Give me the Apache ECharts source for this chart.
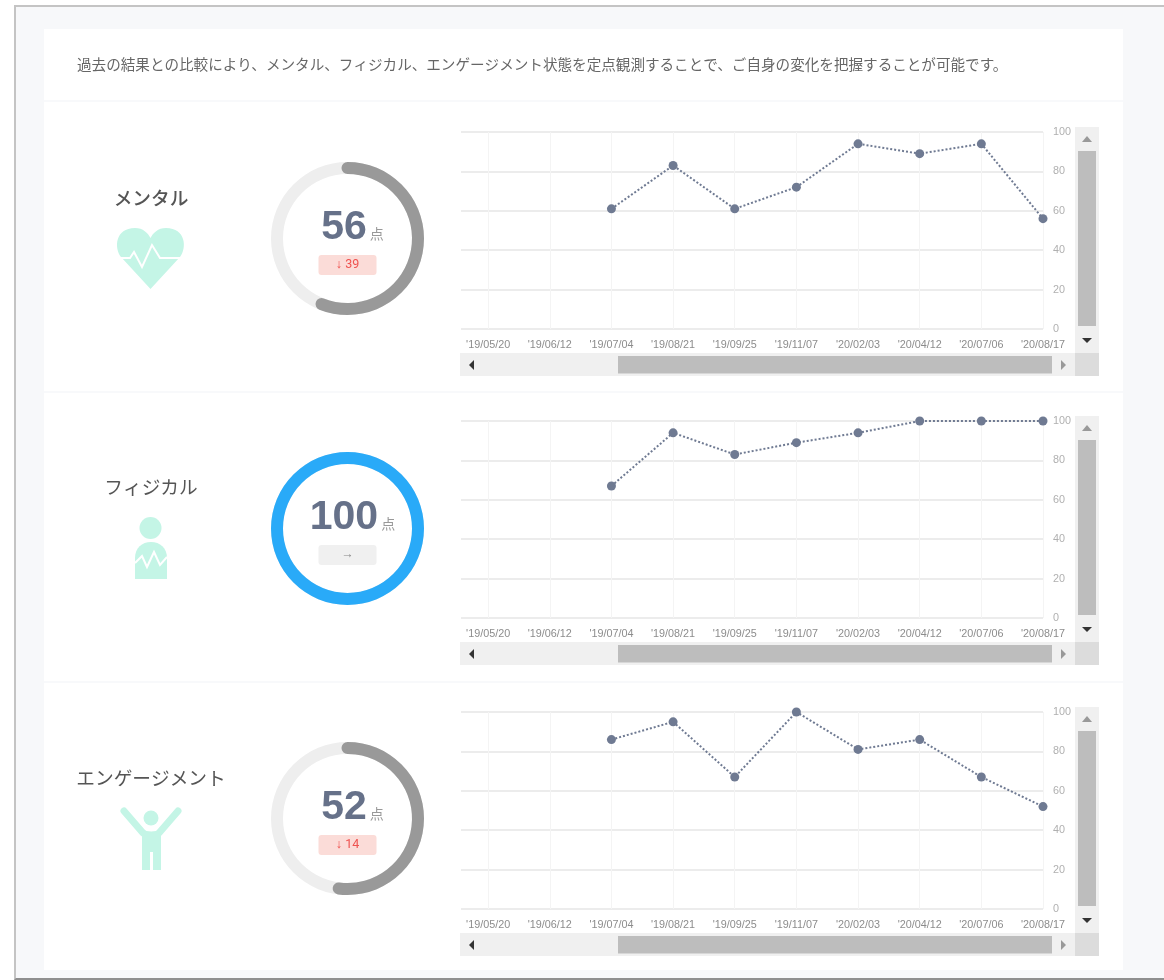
<!DOCTYPE html>
<html lang="ja">
<head>
<meta charset="utf-8">
<title>定点観測</title>
<script src="https://cdn.jsdelivr.net/npm/echarts@6/dist/echarts.min.js"></script>
<style>
html, body { margin: 0; padding: 0; background: #fff; }
.frame { position: absolute; left: 14px; top: 5px; width: 1150px; height: 971px; background: #f7f8fa; border: 2px solid #c4c4c4; border-right: 0; border-bottom-color: #8f8f8f; box-sizing: content-box; }
.card { position: absolute; left: 44px; top: 29px; width: 1079px; height: 941px; background: #fff; }
.sep { position: absolute; left: 44px; width: 1079px; height: 2px; background: #f8f9fb; }
#main { position: absolute; left: 0; top: 0; width: 1164px; height: 980px; }
</style>
</head>
<body>
<div class="frame"></div>
<div class="card"></div>
<div class="sep" style="top:100px"></div>
<div class="sep" style="top:391px"></div>
<div class="sep" style="top:681px"></div>
<div id="main"></div>
<script>
const dateLabels = ["'19/05/20", "'19/06/12", "'19/07/04", "'19/08/21", "'19/09/25", "'19/11/07", "'20/02/03", "'20/04/12", "'20/07/06", "'20/08/17"]
const mentalValues = [null, null, 61, 83, 61, 72, 94, 89, 94, 56]
const physicalValues = [null, null, 67, 94, 83, 89, 94, 100, 100, 100]
const engagementValues = [null, null, 86, 95, 67, 100, 81, 86, 67, 52]
const rowTitles = ['メンタル', 'フィジカル', 'エンゲージメント']
const rowScores = [56, 100, 52]
const rowDiffs = ['↓ 39', '→', '↓ 14']
const introText = '過去の結果との比較により、メンタル、フィジカル、エンゲージメント状態を定点観測することで、ご自身の変化を把握することが可能です。'

const rowValues = [mentalValues, physicalValues, engagementValues]
const rowOffsets = [0, 289, 580]
const ringOffsets = [0, 290, 580]
const titleY = [198, 487, 778]
const mint = '#c4f5e6'
const lineColor = '#6f7a92'

const chart = echarts.init(document.getElementById('main'))

const grids = []
const xAxes = []
const yAxes = []
const series = []
const elements = []

const rect = (x, y, width, height, fill) => ({ type: 'rect', shape: { x, y, width, height }, style: { fill } })
const tri = (points, fill) => ({ type: 'polygon', shape: { points }, style: { fill } })

// graphic has no plain path type, so each icon part gets registered as a shape
let pathCount = 0
const path = (pathData, style) => {
  const name = 'iconPath' + pathCount++
  echarts.graphic.registerShape(name, echarts.graphic.extendPath(pathData))
  return { type: name, style }
}

rowValues.forEach((values, i) => {
  const dy = rowOffsets[i]
  const cy = 238.5 + ringOffsets[i]
  const score = rowScores[i]

  grids.push({ left: 461, width: 582, top: 132 + dy, height: 197 })
  xAxes.push({
    type: 'value',
    gridIndex: i,
    min: -0.44,
    max: 9,
    axisLine: { show: false },
    axisTick: { show: false, customValues: dateLabels.map((d, k) => k) },
    axisLabel: {
      customValues: dateLabels.map((d, k) => k),
      formatter: v => dateLabels[v],
      color: '#8c8c8c',
      fontSize: 10.8,
      fontFamily: 'Liberation Sans',
      margin: 11
    },
    splitLine: { show: true, lineStyle: { color: '#f4f4f4', width: 1 } }
  })
  yAxes.push({
    type: 'value',
    gridIndex: i,
    position: 'right',
    min: 0,
    max: 100,
    interval: 20,
    axisLine: { show: false },
    axisTick: { show: false },
    axisLabel: { color: '#b0b0b0', fontSize: 10.8, fontFamily: 'Liberation Sans', margin: 10 },
    splitLine: { show: true, lineStyle: { color: '#e6e6e6', width: 1.5 } }
  })
  series.push({
    type: 'line',
    xAxisIndex: i,
    yAxisIndex: i,
    data: values.map((v, k) => [k, v]),
    symbol: 'circle',
    symbolSize: 9,
    lineStyle: { color: lineColor, width: 2, type: [2, 2] },
    itemStyle: { color: lineColor },
    clip: false,
    silent: true
  })
  series.push({
    type: 'gauge',
    center: [347.5, cy],
    radius: 76.5,
    startAngle: 90,
    endAngle: -270,
    min: 0,
    max: 100,
    pointer: { show: false },
    axisTick: { show: false },
    splitLine: { show: false },
    axisLabel: { show: false },
    anchor: { show: false },
    axisLine: { lineStyle: { width: 12, color: [[1, '#eeeeee']] } },
    progress: {
      show: true,
      width: 12,
      roundCap: score < 100,
      itemStyle: { color: score === 100 ? '#29aaf8' : '#999999' }
    },
    data: [{
      value: score,
      name: rowDiffs[i],
      title: {
        offsetCenter: [0, 26.5],
        width: 58,
        height: 20,
        lineHeight: 20,
        align: 'center',
        borderRadius: 3,
        fontSize: 12.5,
        fontFamily: 'Roboto',
        color: score === 100 ? '#888' : '#ef5350',
        backgroundColor: score === 100 ? '#f0f0f0' : '#fbdcd8'
      },
      detail: {
        offsetCenter: [5, -11],
        formatter: '{num|{value}}{unit| 点}',
        rich: {
          num: { fontSize: 41, fontWeight: 'bold', color: '#667189', fontFamily: 'Liberation Sans' },
          unit: { fontSize: 14, fontWeight: 'normal', color: '#999', fontFamily: 'Noto Sans CJK JP', padding: [12, 0, 0, 0] }
        }
      }
    }]
  })

  // row title
  elements.push({
    type: 'text',
    x: 151,
    y: titleY[i],
    style: {
      text: rowTitles[i],
      fill: '#555',
      font: (i === 0 ? '500 ' : '') + '18.7px "Noto Sans CJK JP"',
      textAlign: 'center',
      textVerticalAlign: 'middle'
    }
  })

  // scrollbars
  const t = dy
  elements.push(
    rect(1075, 127 + t, 24, 226, '#f0f0f0'),
    rect(1078, 151 + t, 18, 175, '#bdbdbd'),
    tri([[1087, 136 + t], [1082, 142 + t], [1092, 142 + t]], '#999'),
    tri([[1082, 338 + t], [1092, 338 + t], [1087, 343 + t]], '#333'),
    rect(460, 353 + t, 615, 23, '#f0f0f0'),
    rect(618, 356 + t, 434, 17.5, '#bdbdbd'),
    tri([[469, 365 + t], [474, 360 + t], [474, 370 + t]], '#333'),
    tri([[1066, 365 + t], [1061, 360 + t], [1061, 370 + t]], '#999'),
    rect(1075, 353 + t, 24, 23, '#dcdcdc')
  )
})

// icons
elements.push(
  path('M150.5 289 L121 257 C114 248 115 228 135 228 C143 228 148 233 150.5 238 C153 233 158 228 166 228 C186 228 187 248 180 257 Z', { fill: mint }),
  path('M121 258 L130 258 L134 252 L142 267 L152 245 L160 258 L181 258', { fill: 'none', stroke: '#fff', lineWidth: 2 }),
  { type: 'circle', shape: { cx: 150.5, cy: 528, r: 11 }, style: { fill: mint } },
  path('M135 579 L135 558 C135 548 142 542 151 542 C160 542 167 548 167 558 L167 579 Z', { fill: mint }),
  path('M135 563 L142 556 L147 567 L154 552 L160 565 L167 557', { fill: 'none', stroke: '#fff', lineWidth: 2 }),
  { type: 'circle', shape: { cx: 151, cy: 818, r: 7.5 }, style: { fill: mint } },
  path('M124 811 L143 833', { fill: 'none', stroke: mint, lineWidth: 7, lineCap: 'round' }),
  path('M178 811 L159 833', { fill: 'none', stroke: mint, lineWidth: 7, lineCap: 'round' }),
  path('M142 829 Q151 834 161 829 L161 870 L153 870 L153 852 L150 852 L150 870 L142 870 Z', { fill: mint }),
  {
    type: 'text',
    x: 77,
    y: 64,
    style: { text: introText, fill: '#666', font: '14.58px "Noto Sans CJK JP"', textVerticalAlign: 'middle' }
  }
)

chart.setOption({
  animation: false,
  backgroundColor: 'transparent',
  grid: grids,
  xAxis: xAxes,
  yAxis: yAxes,
  series,
  graphic: { elements }
})
</script>
</body>
</html>
